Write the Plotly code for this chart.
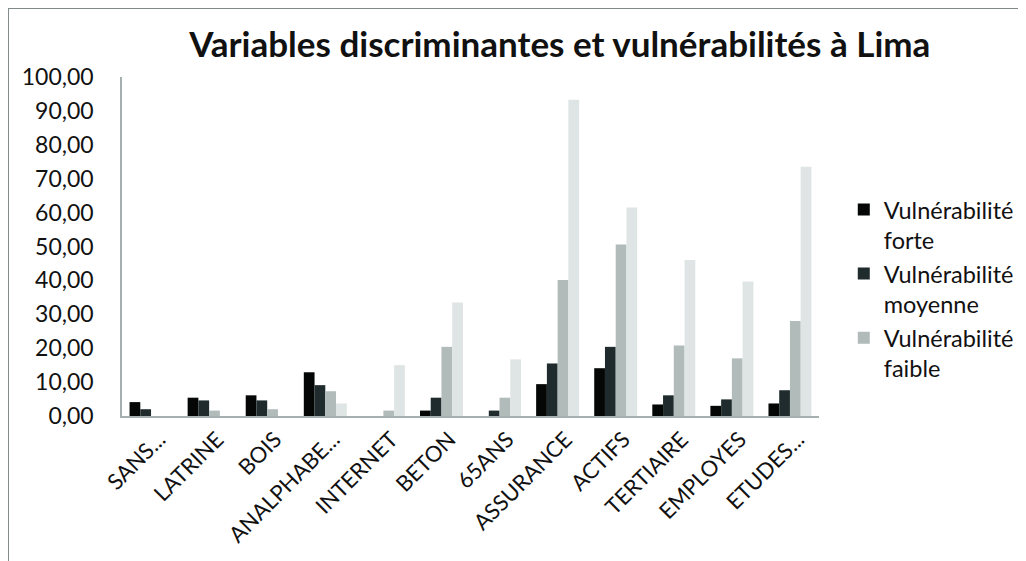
import plotly.graph_objects as go

categories = ["SANS...", "LATRINE", "BOIS", "ANALPHABE...", "INTERNET", "BETON",
              "65ANS", "ASSURANCE", "ACTIFS", "TERTIAIRE", "EMPLOYES", "ETUDES..."]
forte   = [4.1, 5.4, 6.1, 12.9, 0.0, 1.6, 0.0, 9.4, 14.1, 3.4, 3.0, 3.7]
moyenne = [2.0, 4.6, 4.6, 9.1, 0.0, 5.4, 1.6, 15.5, 20.4, 6.1, 4.9, 7.6]
faible  = [0.0, 1.6, 2.0, 7.3, 1.6, 20.4, 5.4, 40.1, 50.6, 20.8, 17.0, 28.0]
tres_faible = [0.0, 0.0, 0.0, 3.7, 15.0, 33.5, 16.7, 93.3, 61.5, 46.0, 39.7, 73.5]

series = [
    ("Vulnérabilité<br>forte", forte, "#050707", True),
    ("Vulnérabilité<br>moyenne", moyenne, "#1f2b2c", True),
    ("Vulnérabilité<br>faible", faible, "#b1bbba", True),
    ("Vulnérabilité<br>très faible", tres_faible, "#dfe5e4", False),
]

FONT = "Lato"
fig = go.Figure()
for name, vals, col, show in series:
    fig.add_trace(go.Bar(x=categories, y=vals, name=name, marker_color=col,
                         marker_line_width=0, showlegend=show))

fig.update_layout(
    width=1018, height=553,
    paper_bgcolor="white", plot_bgcolor="white",
    margin=dict(l=114, r=207, t=69, b=145),
    barmode="group", bargap=0.26, bargroupgap=0.0,
    separators=", ",
    font=dict(family=FONT, color="#111111"),
    title=dict(text="<b>Variables discriminantes et vulnérabilités à Lima</b>",
               xref="container", x=0.542, xanchor="center",
               yref="container", y=0.933, yanchor="middle",
               font=dict(size=35, family=FONT, color="#111111")),
    legend=dict(xref="container", yref="container",
                x=0.821, y=0.675, xanchor="left", yanchor="top",
                valign="top",
                font=dict(size=23.5, family=FONT, color="#111111"),
                itemwidth=30, tracegroupgap=9, bgcolor="rgba(0,0,0,0)"),
    xaxis=dict(showline=True, linecolor="#a7b0b0", linewidth=2,
               tickangle=-45, tickfont=dict(size=22, family=FONT, color="#111111"),
               ticklabelshift=8,
               showgrid=False, ticks=""),
    yaxis=dict(range=[0, 100], dtick=10, tickformat=".2f",
               showline=True, linecolor="#a7b0b0", linewidth=1.5,
               showgrid=False, ticks="", ticklabelstandoff=22,
               tickfont=dict(size=23, family=FONT, color="#111111")),
    shapes=[dict(type="rect", xref="paper", yref="paper",
                 x0=-0.1636, x1=1.4, y0=-0.6, y1=1.2035,
                 line=dict(color="#7f8b8b", width=2), fillcolor="rgba(0,0,0,0)",
                 layer="below")],
)

fig.write_html("out.html")
